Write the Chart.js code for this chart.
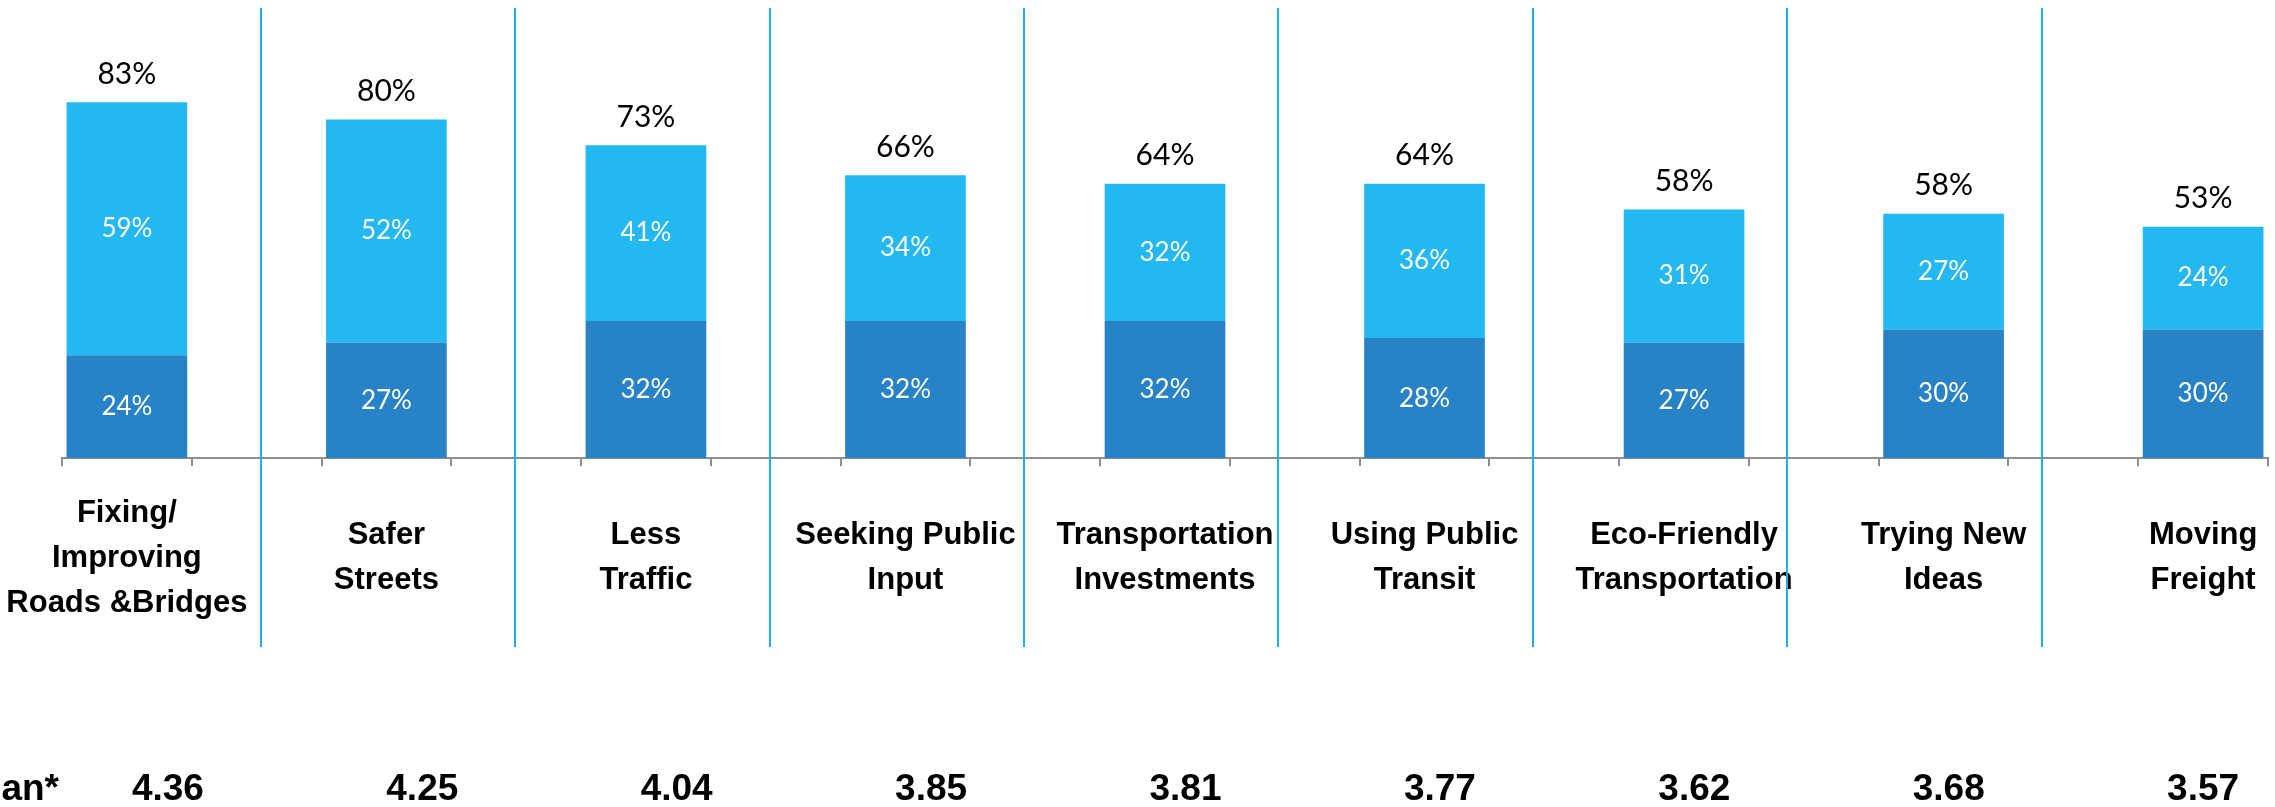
<!DOCTYPE html>
<html>
<head>
<meta charset="utf-8">
<script src="https://cdn.jsdelivr.net/npm/chart.js@4.4.1/dist/chart.umd.min.js"></script>
<style>
  html, body { margin: 0; padding: 0; background: #fff; }
  #wrap { width: 2275px; height: 807px; position: relative; }
</style>
</head>
<body>
<div id="wrap"><canvas id="priority-chart"></canvas></div>
<script>
// Data
var categories = [
  ['Fixing/', 'Improving', 'Roads &Bridges'],
  ['Safer', 'Streets'],
  ['Less', 'Traffic'],
  ['Seeking Public', 'Input'],
  ['Transportation', 'Investments'],
  ['Using Public', 'Transit'],
  ['Eco-Friendly', 'Transportation'],
  ['Trying New', 'Ideas'],
  ['Moving', 'Freight']
];
var lowerShare = [24, 27, 32, 32, 32, 28, 27, 30, 30];   // dark blue part
var upperShare = [59, 52, 41, 34, 32, 36, 31, 27, 24];   // light blue part
var totalShare = [83, 80, 73, 66, 64, 64, 58, 58, 53];   // label on top
var meanScores = [4.36, 4.25, 4.04, 3.85, 3.81, 3.77, 3.62, 3.68, 3.57];
var meanTitle = 'Mean*';

// put an empty slot between every bar (like the original layout)
function spread(arr, filler) {
  var out = [];
  arr.forEach(function(v, i) {
    out.push(v);
    if (i < arr.length - 1) out.push(filler);
  });
  return out;
}

var slotLabels = spread(categories, '');
var lowerData = spread(lowerShare, null);
var upperData = spread(upperShare, null);

var DARK = '#2883c6';
var LIGHT = '#23b9f0';
var SEP = '#1eaee8';
var AXIS = '#8f8f8f';

// x position inside the bottom "table" (mean row + column separators)
function tableX(scale, t) {
  var a = scale.getPixelForValue(0) + 41;
  var b = scale.getPixelForValue(16);
  return a + (b - a) * t / 8;
}

var textPlugin = {
  id: 'barText',
  afterDatasetsDraw: function(chart) {
    var ctx = chart.ctx;
    var lowMeta = chart.getDatasetMeta(0);
    var upMeta = chart.getDatasetMeta(1);
    ctx.save();
    ctx.textAlign = 'center';
    ctx.textBaseline = 'middle';

    // values inside the segments
    ctx.font = '26px Lato';
    ctx.fillStyle = '#ffffff';
    [lowMeta, upMeta].forEach(function(meta, d) {
      var values = chart.data.datasets[d].data;
      meta.data.forEach(function(bar, j) {
        if (values[j] == null) return;
        ctx.fillText(values[j] + '%', bar.x, (bar.y + bar.base) / 2);
      });
    });

    // totals above the bars
    ctx.font = '30px Lato';
    ctx.fillStyle = '#000000';
    var k = 0;
    upMeta.data.forEach(function(bar, j) {
      if (upperData[j] == null) return;
      ctx.fillText(totalShare[k] + '%', bar.x, bar.y - 28);
      k++;
    });
    ctx.restore();
  },
  afterDraw: function(chart) {
    var ctx = chart.ctx;
    var xs = chart.scales.x;
    var area = chart.chartArea;
    ctx.save();

    // column separators
    ctx.strokeStyle = SEP;
    ctx.lineWidth = 2;
    for (var s = 0; s < categories.length - 1; s++) {
      var sx = Math.round(tableX(xs, s + 0.365));
      ctx.beginPath();
      ctx.moveTo(sx, area.top);
      ctx.lineTo(sx, 647);
      ctx.stroke();
    }

    // mean row
    ctx.fillStyle = '#000000';
    ctx.textBaseline = 'middle';
    ctx.font = 'bold 37px "Liberation Sans"';
    ctx.textAlign = 'right';
    ctx.fillText(meanTitle, area.left - 3, 790);
    ctx.textAlign = 'center';
    meanScores.forEach(function(m, i) {
      ctx.fillText(m.toFixed(2), tableX(xs, i), 790);
    });
    ctx.restore();
  }
};

var ctx = document.getElementById('priority-chart').getContext('2d');
var chart = new Chart(ctx, {
  type: 'bar',
  data: {
    labels: slotLabels,
    datasets: [
      { label: 'Lower', data: lowerData, backgroundColor: DARK, barPercentage: 0.93, categoryPercentage: 1 },
      { label: 'Upper', data: upperData, backgroundColor: LIGHT, barPercentage: 0.93, categoryPercentage: 1 }
    ]
  },
  options: {
    responsive: true,
    maintainAspectRatio: false,
    animation: false,
    layout: { padding: { top: 8, left: 62, right: 7, bottom: 112 } },
    plugins: {
      legend: { display: false },
      tooltip: { enabled: false }
    },
    scales: {
      x: {
        stacked: true,
        // labels are wide, but the plot should still run edge to edge
        afterFit: function(scale) {
          scale.paddingLeft = 0;
          scale.paddingRight = 0;
        },
        grid: { display: true, drawOnChartArea: false, drawTicks: true, tickLength: 8, color: AXIS, lineWidth: 2, offset: true },
        border: { display: true, color: AXIS, width: 2 },
        ticks: {
          autoSkip: false,
          maxRotation: 0,
          minRotation: 0,
          padding: 47,
          crossAlign: 'center',
          color: '#000000',
          font: { family: '"Liberation Sans"', weight: 'bold', size: 31, lineHeight: 1.45 }
        }
      },
      y: {
        stacked: true,
        display: false,
        min: 0,
        max: 105
      }
    }
  },
  plugins: [textPlugin]
});
</script>
</body>
</html>
